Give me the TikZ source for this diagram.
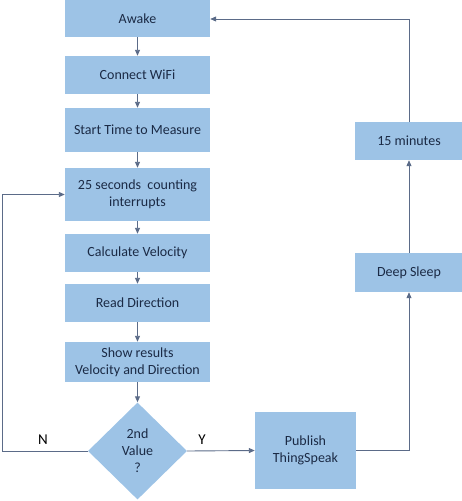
\documentclass[tikz,border=0pt]{standalone}
\usepackage{fontspec}
\setmainfont{Carlito}
\usetikzlibrary{shapes.geometric,arrows.meta}
\definecolor{boxfill}{HTML}{9DC3E6}
\definecolor{txt}{HTML}{1B2A45}
\definecolor{wire}{HTML}{5B6B88}
\tikzset{
  box/.style={rectangle, fill=boxfill, draw=none, minimum width=145pt, inner sep=0pt, align=center, text=txt, font=\fontsize{14}{17}\selectfont},
  rbox/.style={box, minimum width=108pt},
  dec/.style={diamond, fill=boxfill, draw=none, minimum width=99pt, minimum height=97pt, inner sep=0pt, align=center, text=txt, font=\fontsize{14}{17}\selectfont},
  conn/.style={draw=wire, line width=0.9pt, -{Triangle[length=6pt,width=5pt]}},
  plain/.style={draw=wire, line width=0.9pt},
  lbl/.style={font=\fontsize{15}{18}\selectfont, text=black}
}
\begin{document}
\begin{tikzpicture}[x=1pt,y=-1pt]
\useasboundingbox (0,0) rectangle (462,501);
\node[box, minimum height=37pt] (awake) at (137.5,18.5) {Awake};
\node[box, minimum height=38pt] (wifi) at (137.5,75) {Connect WiFi};
\node[box, minimum height=44pt] (start) at (137.5,130) {Start Time to Measure};
\node[box, minimum height=53pt] (count) at (137.5,194.5) {25 seconds\ \ counting\\interrupts};
\node[box, minimum height=38pt] (calc) at (137.5,253) {Calculate Velocity};
\node[box, minimum height=38pt] (read) at (137.5,303) {Read Direction};
\node[box, minimum height=40pt] (show) at (137.5,362) {Show results\\Velocity and Direction};
\node[dec] (second) at (137.5,451) {2nd\\Value\\?};
\node[box, minimum width=101pt, minimum height=77pt] (pub) at (305.5,450.5) {Publish\\ThingSpeak};
\node[rbox, minimum height=39pt] (sleep) at (409,272.5) {Deep Sleep};
\node[rbox, minimum height=38pt] (mins) at (409,141) {15 minutes};
\coordinate (nl) at (2,451);
\coordinate (nt) at (2,194.5);
\coordinate (pr) at (409,450.5);
\coordinate (mt) at (409,19);
\draw[conn] (awake) -- (wifi);
\draw[conn] (wifi) -- (start);
\draw[conn] (start) -- (count);
\draw[conn] (count) -- (calc);
\draw[conn] (calc) -- (read);
\draw[conn] (read) -- (show);
\draw[conn] (show) -- (second);
\draw[conn] (second.west) -- (nl) -- (nt) -- (count.west);
\draw[conn] (second.east) -- (pub.west);
\draw[conn] (pub.east) -- (pr) -- (sleep.south);
\draw[conn] (sleep) -- (mins);
\draw[conn] (mins.north) -- (mt) -- (awake.east |- mt);
\node[lbl] (nlabel) at (43,440) {N};
\node[lbl] (ylabel) at (202,440) {Y};
\end{tikzpicture}
\end{document}
